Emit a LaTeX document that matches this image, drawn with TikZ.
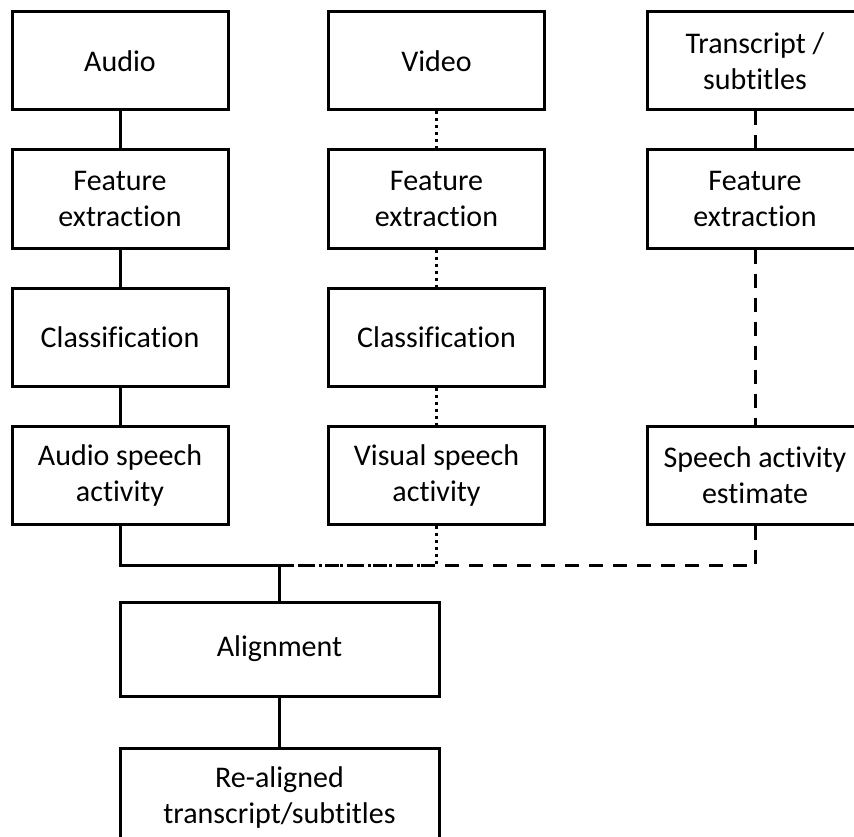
\documentclass[tikz,border=0pt]{standalone}
\usepackage{fontspec}
\setmainfont{Carlito}[RawFeature=-liga]
\begin{document}
\begin{tikzpicture}[x=1pt,y=1pt,
  box/.style={draw=black,line width=3pt,fill=white,minimum width=216pt,minimum height=98pt,
    align=center,inner sep=0pt,font=\fontsize{30}{36}\selectfont},
  conn/.style={line width=3pt,black},
  dotline/.style={conn,dash pattern=on 3pt off 4pt},
  dashline/.style={conn,dash pattern=on 14pt off 10pt}]
\useasboundingbox (0,0) rectangle (854,-837);
\begin{scope}
\clip (0,0) rectangle (854,-837);
% column 1
\node[box] (a1) at (120,-61) {Audio};
\node[box] (a2) at (120,-199) {Feature\\extraction};
\node[box] (a3) at (120,-337) {Classification};
\node[box] (a4) at (120,-475) {Audio speech\\activity};
% column 2
\node[box] (v1) at (436.5,-61) {Video};
\node[box] (v2) at (436.5,-199) {Feature\\extraction};
\node[box] (v3) at (436.5,-337) {Classification};
\node[box] (v4) at (436.5,-475) {Visual speech\\activity};
% column 3
\node[box] (t1) at (755,-61) {Transcript /\\subtitles};
\node[box] (t2) at (755,-199) {Feature\\extraction};
\node[box] (t4) at (755,-475) {Speech activity\\estimate};
% bottom
\node[box,minimum width=319pt,minimum height=94pt] (al) at (279.5,-649) {Alignment};
\node[box,minimum width=319pt,minimum height=98pt] (re) at (279.5,-797) {Re-aligned\\transcript/subtitles};
\coordinate (j) at (279.5,-565);
% connectors
\draw[conn] (a1) -- (a2);
\draw[conn] (a2) -- (a3);
\draw[conn] (a3) -- (a4);
\draw[dotline] (v1) -- (v2);
\draw[dotline] (v2) -- (v3);
\draw[dotline] (v3) -- (v4);
\draw[dashline] (t1) -- (t2);
\draw[dashline] (t2) -- (t4);
\draw[conn] (a4.south) |- (j) -- (al.north);
\draw[dotline] (v4.south) |- (j);
\draw[dashline] (t4.south) |- (j);
\draw[conn] (al) -- (re);
\end{scope}
\end{tikzpicture}
\end{document}
